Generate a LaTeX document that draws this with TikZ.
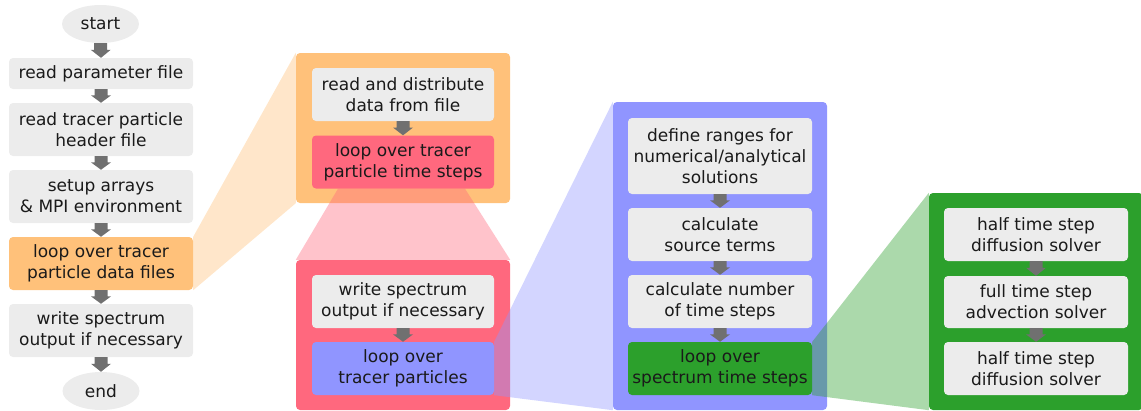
\documentclass[tikz,border=0pt]{standalone}
\usepackage{fontspec}
\setmainfont{DejaVu Sans}
\usetikzlibrary{calc,shapes.geometric}
\definecolor{boxgray}{RGB}{236,236,236}
\definecolor{arrgray}{RGB}{112,112,112}
\definecolor{corange}{RGB}{255,193,122}
\definecolor{cpink}{RGB}{255,104,126}
\definecolor{cblue}{RGB}{144,149,255}
\definecolor{cgreen}{RGB}{44,160,44}
\definecolor{txt}{RGB}{26,26,26}
\pgfdeclarelayer{panel}
\pgfdeclarelayer{funnel}
\pgfsetlayers{panel,funnel,main}
\newcommand\flowarr[2]{%
  \fill[arrgray] ($(#1.south)+(-6.5,0)$) -- ($(#1.south)+(6.5,0)$)
    -- ($(#1.south)!0.45!(#2.north)+(6.5,0)$) -- ($(#1.south)!0.45!(#2.north)+(10,0)$)
    -- (#2.north)
    -- ($(#1.south)!0.45!(#2.north)+(-10,0)$) -- ($(#1.south)!0.45!(#2.north)+(-6.5,0)$) -- cycle;}
\begin{document}
\begin{tikzpicture}[x=1pt,y=-1pt,
  stepbox/.style={rectangle, rounded corners=4pt, fill=boxgray, minimum width=184pt,
    inner sep=0pt, align=center, text=txt, font=\fontsize{17}{21}\selectfont},
  term/.style={ellipse, fill=boxgray, minimum width=77pt, minimum height=38pt,
    inner sep=0pt, text=txt, font=\fontsize{17}{21}\selectfont},
  panel/.style={rectangle, rounded corners=4pt, inner sep=0pt, minimum width=214pt},
  funnel/.style={fill opacity=0.4}]
\useasboundingbox (0,0) rectangle (1141,410);

% left column
\node[term] (start) at (100.5,24) {start};
\node[stepbox, minimum height=31pt] (rp) at (101,73.5) {read parameter file};
\node[stepbox, minimum height=53pt] (rt) at (101,129.5) {read tracer particle\\header file};
\node[stepbox, minimum height=53pt] (su) at (101,196.5) {setup arrays\\\& MPI environment};
\node[stepbox, minimum height=53pt, fill=corange] (lo) at (101,263.5) {loop over tracer\\particle data files};
\node[stepbox, minimum height=53pt] (ws) at (101,330.5) {write spectrum\\output if necessary};
\node[term] (end) at (101,391) {end};
\flowarr{start}{rp}
\flowarr{rp}{rt}
\flowarr{rt}{su}
\flowarr{su}{lo}
\flowarr{lo}{ws}
\flowarr{ws}{end}

% orange panel
\node[stepbox, minimum width=182pt, minimum height=53pt] (rd) at (403,94.5) {read and distribute\\data from file};
\node[stepbox, minimum width=182pt, minimum height=53pt, fill=cpink] (lp) at (403,162) {loop over tracer\\particle time steps};
\flowarr{rd}{lp}

% pink panel
\node[stepbox, minimum width=182pt, minimum height=53pt] (ws2) at (403,301.5) {write spectrum\\output if necessary};
\node[stepbox, minimum width=182pt, minimum height=53pt, fill=cblue] (lt) at (403,368.5) {loop over\\tracer particles};
\flowarr{ws2}{lt}

% blue panel
\node[stepbox, minimum height=76pt] (df) at (720,156) {define ranges for\\numerical/analytical\\solutions};
\node[stepbox, minimum height=53pt] (cs) at (720,234.5) {calculate\\source terms};
\node[stepbox, minimum height=53pt] (cn) at (720,301.5) {calculate number\\of time steps};
\node[stepbox, minimum height=53pt, fill=cgreen] (ls) at (720,368.5) {loop over\\spectrum time steps};
\flowarr{df}{cs}
\flowarr{cs}{cn}
\flowarr{cn}{ls}

% green panel
\node[stepbox, minimum height=53pt] (h1) at (1036,234.5) {half time step\\diffusion solver};
\node[stepbox, minimum height=52pt] (fs) at (1036,302) {full time step\\advection solver};
\node[stepbox, minimum height=53pt] (h2) at (1036,368.5) {half time step\\diffusion solver};
\flowarr{h1}{fs}
\flowarr{fs}{h2}

\begin{pgfonlayer}{panel}
\node[panel, fill=corange, minimum height=150pt] (P1) at (403,128) {};
\node[panel, fill=cpink, minimum height=150pt] (P2) at (403,335) {};
\node[panel, fill=cblue, minimum height=308pt] (P3) at (720,256) {};
\node[panel, fill=cgreen, minimum height=217pt] (P4) at (1036,301.5) {};
\end{pgfonlayer}

\begin{pgfonlayer}{funnel}
\fill[corange, funnel] (lo.north east) -- (P1.north west) -- (P1.south west) -- (lo.south east) -- cycle;
\fill[cpink, funnel] ($(lp.south)+(-65,0)$) -- ($(lp.south)+(62,0)$) -- (P2.north east) -- (P2.north west) -- cycle;
\fill[cblue, funnel] (lt.north east) -- (P3.north west) -- (P3.south west) -- (lt.south east) -- cycle;
\fill[cgreen, funnel] (ls.north east) -- (P4.north west) -- (P4.south west) -- (ls.south east) -- cycle;
\end{pgfonlayer}
\end{tikzpicture}
\end{document}
